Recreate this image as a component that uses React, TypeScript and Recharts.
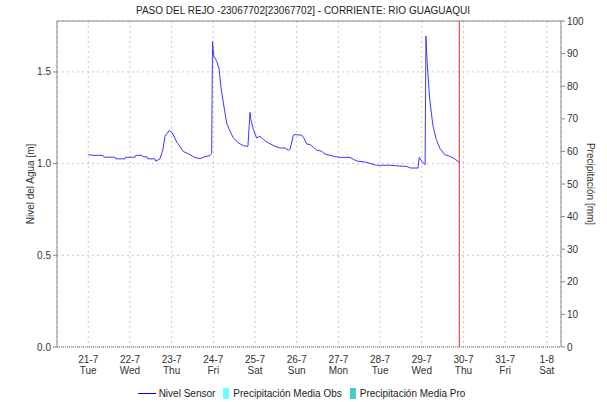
import React from "react";
import {
  LineChart,
  Line,
  XAxis,
  YAxis,
  CartesianGrid,
  ReferenceLine,
  Legend,
} from "recharts";

// day offset from 21-7 00:00
const days: number[] = [
  0.0, 0.11, 0.35, 0.38, 0.64, 0.66, 0.88, 0.9, 1.12, 1.14, 1.29, 1.31, 1.41, 1.43,
  1.6, 1.62, 1.72, 1.79, 1.84, 1.94, 2.01, 2.13, 2.2, 2.27, 2.39, 2.56, 2.68, 2.8,
  2.92, 2.96, 2.97, 2.98, 3.01, 3.08, 3.14, 3.18, 3.24, 3.32, 3.4, 3.48, 3.6, 3.72,
  3.81, 3.83, 3.88, 3.9, 3.96, 4.04, 4.12, 4.2, 4.32, 4.48, 4.6, 4.72, 4.8, 4.84,
  4.92, 4.96, 5.12, 5.17, 5.24, 5.32, 5.4, 5.48, 5.6, 5.68, 5.8, 5.92, 6.04, 6.28,
  6.36, 6.47, 6.63, 6.75, 6.91, 7.24, 7.4, 7.64, 7.73, 7.91, 7.94, 8.0, 8.08, 8.09,
  8.1, 8.13, 8.19, 8.23, 8.27, 8.35, 8.43, 8.55, 8.67, 8.79, 8.9,
];

const nivelSensor: number[] = [
  1.049, 1.045, 1.045, 1.035, 1.035, 1.026, 1.026, 1.035, 1.035, 1.045, 1.045, 1.037, 1.037, 1.026,
  1.026, 1.013, 1.026, 1.076, 1.149, 1.18, 1.169, 1.115, 1.094, 1.067, 1.055, 1.033, 1.027, 1.038,
  1.044, 1.055, 1.35, 1.665, 1.586, 1.559, 1.514, 1.422, 1.331, 1.222, 1.177, 1.14, 1.113, 1.098,
  1.094, 1.094, 1.28, 1.24, 1.186, 1.14, 1.149, 1.131, 1.113, 1.094, 1.085, 1.085, 1.073, 1.077,
  1.155, 1.158, 1.155, 1.14, 1.107, 1.104, 1.089, 1.074, 1.067, 1.052, 1.045, 1.038, 1.034, 1.034,
  1.023, 1.013, 1.009, 1.002, 0.991, 0.991, 0.988, 0.984, 0.976, 0.976, 1.034, 1.013, 0.994, 1.331,
  1.695, 1.55, 1.35, 1.277, 1.204, 1.131, 1.085, 1.049, 1.04, 1.026, 1.007,
];

const tickDays: number[] = [0, 1, 2, 3, 4, 5, 6, 7, 8, 9, 10, 11];
const dateLabels: string[] = ["21-7", "22-7", "23-7", "24-7", "25-7", "26-7", "27-7", "28-7", "29-7", "30-7", "31-7", "1-8"];
const weekdayLabels: string[] = ["Tue", "Wed", "Thu", "Fri", "Sat", "Sun", "Mon", "Tue", "Wed", "Thu", "Fri", "Sat"];

const leftTicks: number[] = [0, 0.5, 1.0, 1.5];
const rightTicks: number[] = [0, 10, 20, 30, 40, 50, 60, 70, 80, 90, 100];

const currentTime = 8.9;

const title = "PASO DEL REJO -23067702[23067702] - CORRIENTE: RIO GUAGUAQUI";

const data = days.map((d, i) => ({ d, nivel: nivelSensor[i] }));

const FONT = "'Liberation Sans', Arial, sans-serif";
const TXT = "#333";

const DateTick = (props: any) => {
  const { x, y, payload } = props;
  const i = tickDays.indexOf(payload.value);
  return (
    <g>
      <text x={x} y={y + 8} textAnchor="middle" fontSize={10} fill={TXT} fontFamily={FONT}>
        {dateLabels[i]}
      </text>
      <text x={x} y={y + 19} textAnchor="middle" fontSize={10} fill={TXT} fontFamily={FONT}>
        {weekdayLabels[i]}
      </text>
    </g>
  );
};

const LegendContent = () => (
  <div
    style={{
      display: "flex",
      justifyContent: "center",
      alignItems: "center",
      height: 18,
      fontFamily: FONT,
      fontSize: 10,
      color: "#222",
      paddingRight: 4,
    }}
  >
    <span style={{ display: "inline-block", width: 18, height: 0, borderTop: "1px solid #0000ff", marginRight: 3 }} />
    <span style={{ marginRight: 8 }}>Nivel Sensor</span>
    <span style={{ display: "inline-block", width: 6, height: 11, background: "#66ffff", marginRight: 4 }} />
    <span style={{ marginRight: 8 }}>Precipitación Media Obs</span>
    <span style={{ display: "inline-block", width: 6, height: 11, background: "#44cccc", marginRight: 4 }} />
    <span>Precipitación Media Pro</span>
  </div>
);

export default function App() {
  return (
    <div style={{ position: "absolute", left: 0, top: 0, width: 607, height: 402, background: "#fff" }}>
      <LineChart
        width={607}
        height={402}
        data={data}
        margin={{ top: 21, right: 0, bottom: 0, left: 0 }}
      >
        <text x={303} y={14} textAnchor="middle" fontSize={10} fill="#222" fontFamily={FONT}>
          {title}
        </text>
        <CartesianGrid yAxisId="left" stroke="#c8c8c8" strokeDasharray="2 3" />
        <XAxis
          dataKey="d"
          type="number"
          domain={[-0.75, 11.34]}
          ticks={tickDays}
          interval={0}
          allowDataOverflow
          height={37}
          tick={<DateTick />}
          tickLine={false}
          axisLine={{ stroke: "#666", strokeDasharray: "1 1" }}
        />
        <YAxis
          yAxisId="left"
          orientation="left"
          width={57}
          domain={[0, 1.7776]}
          ticks={leftTicks}
          allowDataOverflow
          tickFormatter={(v: number) => v.toFixed(1)}
          tick={{ fontSize: 10, fill: TXT, fontFamily: FONT }}
          tickSize={4}
          tickLine={{ stroke: "#888" }}
          axisLine={{ stroke: "#888" }}
          label={{
            value: "Nivel del Agua [m]",
            angle: -90,
            position: "insideLeft",
            offset: 30,
            style: { textAnchor: "middle", fontSize: 10, fill: TXT, fontFamily: FONT },
          }}
        />
        <YAxis
          yAxisId="right"
          orientation="right"
          width={46}
          domain={[0, 100]}
          ticks={rightTicks}
          interval={0}
          allowDataOverflow
          tick={{ fontSize: 10, fill: TXT, fontFamily: FONT }}
          tickSize={4}
          tickLine={{ stroke: "#888" }}
          axisLine={{ stroke: "#888" }}
          label={{
            value: "Precipitación [mm]",
            angle: 90,
            position: "insideRight",
            offset: 16,
            style: { textAnchor: "middle", fontSize: 10, fill: TXT, fontFamily: FONT },
          }}
        />
        <ReferenceLine yAxisId="right" y={100} stroke="#888" />
        <ReferenceLine yAxisId="left" x={currentTime} stroke="#ff2020" strokeWidth={1} />
        <Line
          yAxisId="left"
          type="linear"
          dataKey="nivel"
          stroke="#3a3aff"
          strokeWidth={1}
          dot={false}
          isAnimationActive={false}
        />
        <Legend verticalAlign="bottom" height={18} content={<LegendContent />} />
      </LineChart>
    </div>
  );
}
